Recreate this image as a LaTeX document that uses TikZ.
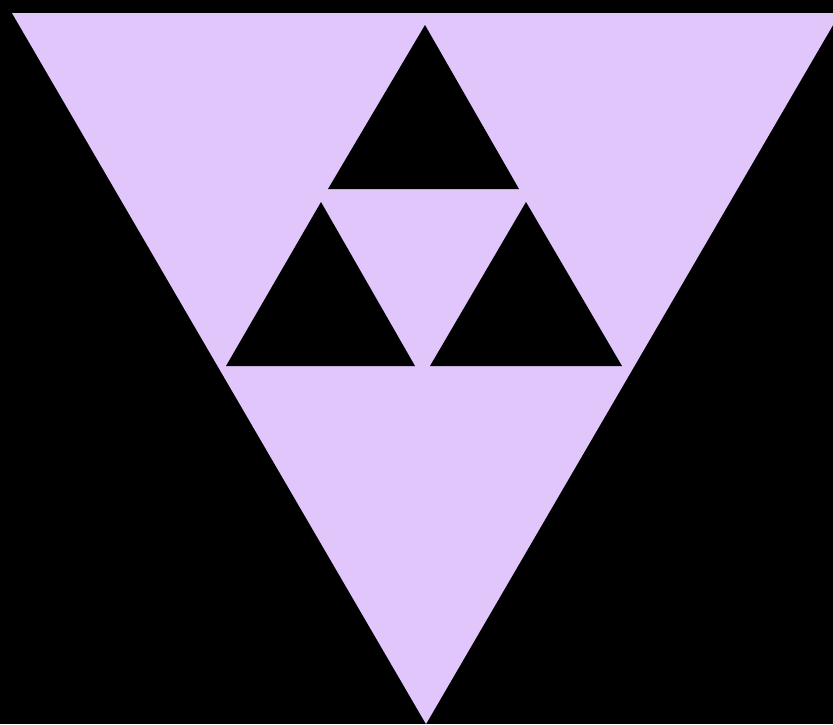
\documentclass[tikz,border=0pt]{standalone}
\definecolor{lav}{RGB}{224,198,250}
\begin{document}
\begin{tikzpicture}[x=1pt,y=-1pt,
  outer/.style={fill=lav,draw=none},
  hole/.style={fill=black,draw=none}]
\fill[black] (0,0) rectangle (833,724);
\useasboundingbox (0,0) rectangle (833,724);
\fill[outer] (12,13) -- (840,13) -- (426,724) -- cycle;
\fill[hole] (425,25) -- (519,189) -- (328,189) -- cycle;
\fill[hole] (321,202) -- (415,366) -- (226,366) -- cycle;
\fill[hole] (526,202) -- (622,366) -- (430,366) -- cycle;
\end{tikzpicture}
\end{document}
